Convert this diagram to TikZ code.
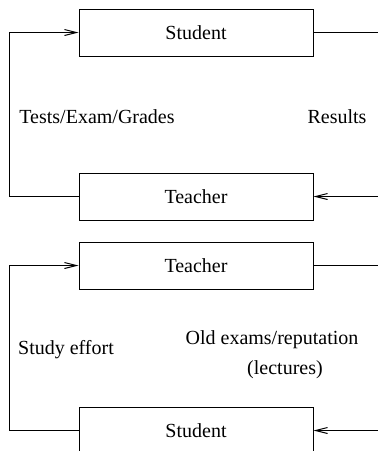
\documentclass[tikz,border=0pt]{standalone}
\usepackage{fontspec}
\setmainfont{Liberation Serif}
\usetikzlibrary{arrows.meta}

\begin{document}
\begin{tikzpicture}[x=0.5pt,y=-0.5pt,line width=0.5pt,
  box/.style={draw,minimum width=117pt,minimum height=23.5pt,inner sep=0pt},
  >={Straight Barb[length=6pt,width=3pt]}]

\clip (0,0) rectangle (378,451);

\node[box] (s1) at (196,32.5) {Student};
\node[box] (t1) at (196,196.5) {Teacher};
\node[box] (t2) at (196,265.5) {Teacher};
\node[box] (s2) at (196,430.5) {Student};

\coordinate (lft) at (9,0);
\coordinate (r1) at (378,32.5);
\coordinate (r2) at (378,196.5);
\coordinate (r3) at (378,265.5);
\coordinate (r4) at (378,430.5);

\node (tests) at (97,117) {Tests/Exam/Grades};
\node (res) at (337,117) {Results};
\node (effort) at (66,350) {Study effort};
\node (old) at (272,340) {Old exams/reputation};
\node (lect) at (285,370) {(lectures)};

\draw[->] (t1.west) -- (t1.west -| lft) |- (s1.west);
\draw (s1.east) -- (r1);
\draw[->] (r2) -- (t1.east);

\draw[->] (s2.west) -- (s2.west -| lft) |- (t2.west);
\draw (t2.east) -- (r3);
\draw[->] (r4) -- (s2.east);

\end{tikzpicture}
\end{document}
